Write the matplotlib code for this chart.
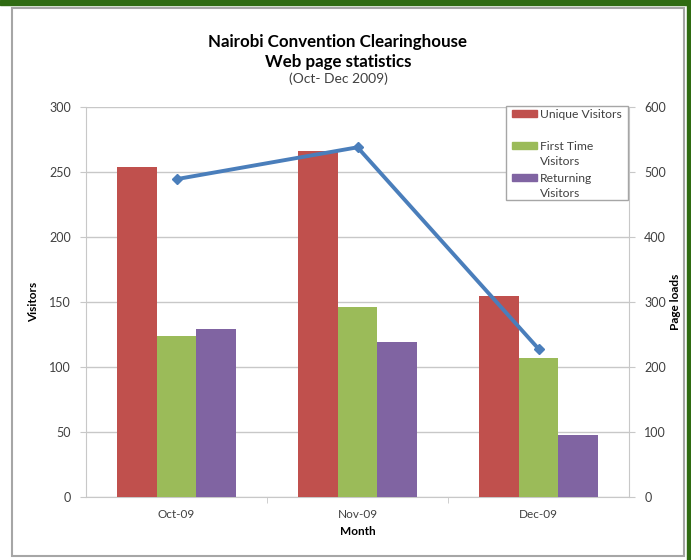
import matplotlib.pyplot as plt
import numpy as np
from matplotlib.patches import Rectangle

plt.rcParams['font.family'] = ['Lato', 'DejaVu Sans']

months = ['Oct-09', 'Nov-09', 'Dec-09']
unique_visitors = [254, 266, 155]
first_time = [124, 146, 107]
returning = [129, 119, 48]
page_loads = [489, 538, 228]
legend_labels = ['Unique Visitors', 'First Time\nVisitors', 'Returning\nVisitors']

RED = '#c0504d'
GREEN = '#9bbb59'
PURPLE = '#8064a2'
BLUE = '#4a7ebb'
GRID = '#c8c8c8'
TXT = '#404040'

fig = plt.figure(figsize=(6.91, 5.60), dpi=100)
W, H = 691, 560


def px(xp, yp):
    # pixel coords (from top-left) -> figure fraction
    return xp / W, 1 - yp / H


# outer frame: green band + gray chart border
fig.patches.append(Rectangle((0, 1 - 5 / H), 1, 5 / H, transform=fig.transFigure,
                             color='#2f6b12', zorder=0))
fig.patches.append(Rectangle((1 - 4 / W, 0), 4 / W, 1, transform=fig.transFigure,
                             color='#2f6b12', zorder=0))
fig.patches.append(Rectangle((12 / W, 4 / H), (684 - 12) / W, (552 - 4) / H,
                             transform=fig.transFigure, fill=False,
                             edgecolor='#a6a6a6', lw=1.5, zorder=1))

ax = fig.add_axes([86 / W, 63 / H, 543 / W, 390 / H])
x = np.arange(len(months))
bw = 0.22
ax.bar(x - bw, unique_visitors, bw, color=RED, zorder=3)
ax.bar(x, first_time, bw, color=GREEN, zorder=3)
ax.bar(x + bw, returning, bw, color=PURPLE, zorder=3)

ax.set_xlim(-0.5, 2.5)
ax.set_ylim(0, 300)
ax.set_yticks(range(0, 301, 50))
ax.yaxis.grid(True, color=GRID, lw=1)
ax.set_axisbelow(True)
ax.set_xticks(x)
ax.set_xticklabels(months)
ax.set_xticks([0.5, 1.5], minor=True)
ax.tick_params(axis='x', which='major', length=0, pad=9, labelsize=8.5, labelcolor=TXT)
ax.tick_params(axis='x', which='minor', length=4, color=GRID)
ax.tick_params(axis='y', length=4, color=GRID, labelsize=9, labelcolor=TXT, pad=7)
for s in ['left', 'right', 'bottom']:
    ax.spines[s].set_color(GRID)
ax.spines['top'].set_visible(False)
ax.set_xlabel('Month', fontsize=8.5, fontweight='bold', labelpad=4)
ax.set_ylabel('Visitors', fontsize=8.5, fontweight='bold')
ax.yaxis.set_label_coords(-0.0866, 0.5)

ax2 = ax.twinx()
ax2.plot(x, page_loads, color=BLUE, lw=2.8, marker='D', markersize=5.5, zorder=4)
ax2.set_ylim(0, 600)
ax2.set_yticks(range(0, 601, 100))
ax2.tick_params(axis='y', length=4, color=GRID, labelsize=9, labelcolor=TXT, pad=7)
for s in ['left', 'right', 'bottom', 'top']:
    ax2.spines[s].set_visible(False)
ax2.set_ylabel('Page loads', fontsize=8.5, fontweight='bold')
ax2.yaxis.set_label_coords(1.076, 0.5)

# legend drawn by hand (Excel style: swatch aligned with first text line)
lx, ly = px(506, 200)
lw_, lh_ = 122 / W, 94 / H
fig.patches.append(Rectangle((lx, ly), lw_, lh_, transform=fig.transFigure,
                             facecolor='white', edgecolor='#a6a6a6', lw=1, zorder=5))
for color, label, yc in zip([RED, GREEN, PURPLE], legend_labels, [113, 145, 177]):
    sx, sy = px(512, yc + 3.5)
    fig.patches.append(Rectangle((sx, sy), 25 / W, 7 / H, transform=fig.transFigure,
                                 color=color, zorder=6))
    tx, ty = px(540, yc - 4.5)
    fig.text(tx, ty, label, ha='left', va='top', fontsize=8.7, color=TXT,
             linespacing=1.45, zorder=7)

fig.text(338 / W, 1 - 42 / H, 'Nairobi Convention Clearinghouse', ha='center', va='center',
         fontsize=12.2, fontweight='bold', color='black')
fig.text(338 / W, 1 - 62 / H, 'Web page statistics', ha='center', va='center',
         fontsize=12.2, fontweight='bold', color='black')
fig.text(338 / W, 1 - 79 / H, '(Oct- Dec 2009)', ha='center', va='center',
         fontsize=10, color=TXT)

fig.savefig('out.png', dpi=100)
